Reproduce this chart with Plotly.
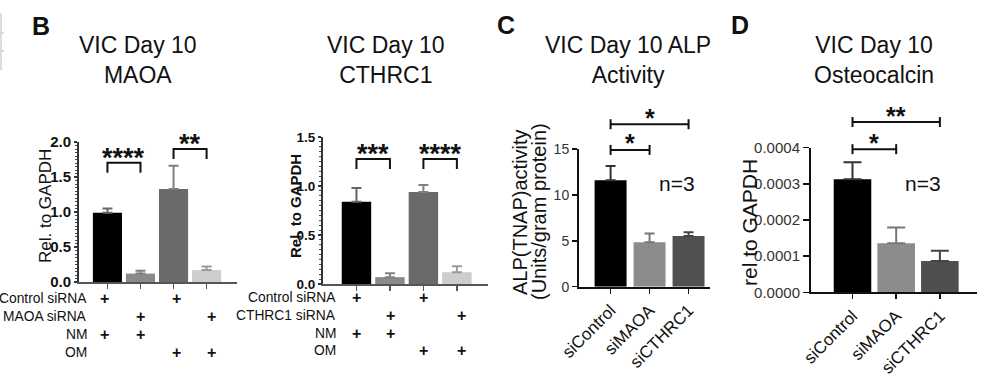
import plotly.graph_objects as go

W, H = 992, 378
FONT = "Arial, Liberation Sans, Helvetica, sans-serif"

# ---------------- data ----------------
maoa_groups = ["Ctrl siRNA NM", "MAOA siRNA NM", "Ctrl siRNA OM", "MAOA siRNA OM"]
maoa_mean = [0.99, 0.12, 1.33, 0.17]
maoa_err = [0.06, 0.04, 0.33, 0.05]

cthrc1_groups = ["Ctrl siRNA NM", "CTHRC1 siRNA NM", "Ctrl siRNA OM", "CTHRC1 siRNA OM"]
cthrc1_mean = [0.84, 0.07, 0.94, 0.12]
cthrc1_err = [0.14, 0.04, 0.07, 0.06]

alp_groups = ["siControl", "siMAOA", "siCTHRC1"]
alp_mean = [11.6, 4.84, 5.52]
alp_err = [1.55, 0.96, 0.40]

ocn_groups = ["siControl", "siMAOA", "siCTHRC1"]
ocn_mean = [3.13e-4, 1.355e-4, 0.866e-4]
ocn_err = [0.47e-4, 0.435e-4, 0.284e-4]

maoa_rows = ["Control siRNA", "MAOA siRNA", "NM", "OM"]
cthrc1_rows = ["Control siRNA", "CTHRC1 siRNA", "NM", "OM"]
plus_matrix = [[1, 0, 1, 0], [0, 1, 0, 1], [1, 1, 0, 0], [0, 0, 1, 1]]

maoa_sig = [(0, 1, 1.704, "****"), (2, 3, 1.90, "**")]
cthrc1_sig = [(0, 1, 1.276, "***"), (2, 3, 1.276, "****")]
alp_sig = [(0, 1, 14.9, "*"), (0, 2, 17.7, "*")]
ocn_sig = [(0, 1, 3.96e-4, "*"), (0, 2, 4.71e-4, "**")]

maoa_ticks = [0.0, 0.5, 1.0, 1.5, 2.0]
cthrc1_ticks = [0.0, 0.5, 1.0, 1.5]
alp_ticks = [0, 5, 10, 15]
ocn_ticks = [0.0, 0.0001, 0.0002, 0.0003, 0.0004]
ocn_ticktext = ["0.0000", "0.0001", "0.0002", "0.0003", "0.0004"]

# ---------------- geometry / style ----------------
panels = [
    dict(name="B1", xa="x", ya="y", x=(79, 237), y=(282, 142), xr=(-0.86, 3.92), yr=(0, 2.0),
         groups=maoa_groups, mean=maoa_mean, err=maoa_err,
         colors=["#000000", "#8a8a8a", "#6a6a6a", "#cdcdcd"],
         ecolors=["#666666", "#808080", "#808080", "#9a9a9a"], width=0.88, ewidth=5),
    dict(name="B2", xa="x2", ya="y2", x=(323, 488), y=(284, 137), xr=(-1.0, 3.93), yr=(0, 1.5),
         groups=cthrc1_groups, mean=cthrc1_mean, err=cthrc1_err,
         colors=["#000000", "#8a8a8a", "#6a6a6a", "#cdcdcd"],
         ecolors=["#666666", "#808080", "#808080", "#9a9a9a"], width=0.88, ewidth=5),
    dict(name="C", xa="x3", ya="y3", x=(579, 710), y=(286.7, 149), xr=(-0.81, 2.55), yr=(0, 15),
         groups=alp_groups, mean=alp_mean, err=alp_err,
         colors=["#000000", "#8c8c8c", "#505050"],
         ecolors=["#333333", "#777777", "#444444"], width=0.82, ewidth=5),
    dict(name="D", xa="x4", ya="y4", x=(811, 977), y=(292.3, 147.7), xr=(-0.95, 2.85), yr=(0, 0.0004),
         groups=ocn_groups, mean=ocn_mean, err=ocn_err,
         colors=["#000000", "#8c8c8c", "#4f4f4f"],
         ecolors=["#333333", "#777777", "#444444"], width=0.86, ewidth=9),
]


def to_px(p, i, v):
    x = p["x"][0] + (i - p["xr"][0]) / (p["xr"][1] - p["xr"][0]) * (p["x"][1] - p["x"][0])
    y = p["y"][0] - (v - p["yr"][0]) / (p["yr"][1] - p["yr"][0]) * (p["y"][0] - p["y"][1])
    return x, y


def PX(x):
    return x / W


def PY(y):
    return 1 - y / H


fig = go.Figure()
layout = dict(width=W, height=H, autosize=False, margin=dict(l=0, r=0, t=0, b=0, pad=0),
              paper_bgcolor="white", plot_bgcolor="white", showlegend=False,
              barmode="overlay", font=dict(family=FONT, color="#111"))

for p in panels:
    for g, m, e, c, ec in zip(p["groups"], p["mean"], p["err"], p["colors"], p["ecolors"]):
        fig.add_trace(go.Bar(
            x=[g], y=[m], width=p["width"], marker=dict(color=c, line=dict(width=0)),
            error_y=dict(type="data", array=[e], arrayminus=[0], symmetric=False,
                         color=ec, thickness=2, width=p["ewidth"]),
            xaxis=p["xa"], yaxis=p["ya"], hoverinfo="skip"))
    xk = "xaxis" + p["xa"][1:]
    yk = "yaxis" + p["ya"][1:]
    layout[xk] = dict(domain=[PX(p["x"][0]), PX(p["x"][1])], range=list(p["xr"]), anchor=p["ya"],
                      type="category", categoryorder="array", categoryarray=p["groups"],
                      automargin=False, showgrid=False, zeroline=False, showline=True, linewidth=2,
                      ticks="outside", ticklen=5, tickwidth=1.5, fixedrange=True)
    layout[yk] = dict(domain=[PY(p["y"][0]), PY(p["y"][1])], range=list(p["yr"]), anchor=p["xa"],
                      automargin=False, showgrid=False, zeroline=False, showline=True, linewidth=2,
                      ticks="outside", tickwidth=1.5, fixedrange=True)

# B panels axes
for k, ticks, fs in (("", maoa_ticks, 15), ("2", cthrc1_ticks, 13.5)):
    layout["xaxis" + k].update(showticklabels=False, linecolor="#555555", tickcolor="#555555")
    layout["yaxis" + k].update(tickvals=ticks, ticktext=["%.1f" % t for t in ticks],
                               tickfont=dict(size=fs, weight="bold", color="#111"),
                               linecolor="#333333", tickcolor="#333333", ticklen=3,
                               minor=dict(dtick=0.05, ticks="outside", ticklen=2,
                                          tickcolor="#444444", tickwidth=1))
# C / D axes
layout["xaxis3"].update(tickangle=-45, tickfont=dict(size=17, color="#111"),
                        linecolor="#111", tickcolor="#111")
layout["yaxis3"].update(tickvals=alp_ticks, tickfont=dict(size=14, color="#333"),
                        linecolor="#111", tickcolor="#111", ticklen=5)
layout["xaxis4"].update(tickangle=-45, tickfont=dict(size=17, color="#111"),
                        linecolor="#111", tickcolor="#111")
layout["yaxis4"].update(tickvals=ocn_ticks, ticktext=ocn_ticktext, tickfont=dict(size=15, color="#333"),
                        linecolor="#111", tickcolor="#111", ticklen=6)

shapes = []
ann = []


def text(x, y, t, size, bold=False, xanchor="center", yanchor="middle", angle=0, color="#111", **kw):
    f = dict(size=size, family=FONT, color=color)
    if bold:
        f["weight"] = "bold"
    a = dict(x=PX(x), y=PY(y), xref="paper", yref="paper", text=t, showarrow=False,
             xanchor=xanchor, yanchor=yanchor, textangle=angle, font=f)
    a.update(kw)
    ann.append(a)


def star(x, y_center, lab, size):
    # place so that the asterisk glyph (upper part of the em box) is centred at y_center
    text(x, y_center + 0.22 * size, lab, size, bold=True)


# significance brackets
def bracket_B(p, sig, leg=10, star_size=27, rise=11):
    for i, j, v, lab in sig:
        x1, y = to_px(p, i, v)
        x2, _ = to_px(p, j, v)
        path = "M %f %f L %f %f L %f %f L %f %f" % (PX(x1), PY(y + leg), PX(x1), PY(y),
                                                     PX(x2), PY(y), PX(x2), PY(y + leg))
        shapes.append(dict(type="path", path=path, xref="paper", yref="paper",
                           line=dict(color="#111", width=2)))
        star((x1 + x2) / 2, y - rise, lab, star_size)


def bracket_I(p, sig, cap=5, star_size=25, rise=12):
    for i, j, v, lab in sig:
        x1, y = to_px(p, i, v)
        x2, _ = to_px(p, j, v)
        for (a, b, c, d) in ((x1, y, x2, y), (x1, y - cap, x1, y + cap), (x2, y - cap, x2, y + cap)):
            shapes.append(dict(type="line", x0=PX(a), y0=PY(b), x1=PX(c), y1=PY(d),
                               xref="paper", yref="paper", line=dict(color="#111", width=2)))
        star((x1 + x2) / 2, y - rise, lab, star_size)


bracket_B(panels[0], maoa_sig)
bracket_B(panels[1], cthrc1_sig)
bracket_I(panels[2], alp_sig)
bracket_I(panels[3], ocn_sig)

# titles
text(138, 60, "VIC Day 10<br>MAOA", 23)
text(386, 60, "VIC Day 10<br>CTHRC1", 23)
text(628, 60, "VIC Day 10 ALP<br>Activity", 23)
text(874, 60, "VIC Day 10<br>Osteocalcin", 23)

# panel letters
text(41, 26, "B", 25, bold=True)
text(506, 25, "C", 25, bold=True)
text(740, 25, "D", 25, bold=True)

# y-axis titles
text(45, 206, "Rel. to GAPDH", 17, angle=-90)
text(295, 206, "Rel. to GAPDH", 15, bold=True, angle=-90)
text(520, 212, "ALP(TNAP)activity", 20, angle=-90)
text(539, 212, "(Units/gram protein)", 20, angle=-90)
text(749, 223, "rel to GAPDH", 21, angle=-90)

# n=3
text(677, 183, "n=3", 21)
text(923, 183, "n=3", 21)

# treatment tables under B panels
maoa_row_y = [298, 316, 334, 352]
maoa_col_x = [104, 140, 176, 211]
cthrc1_row_y = [297, 315, 333, 350]
cthrc1_col_x = [356, 390, 423, 461]
for rows, ry, cx, rx in ((maoa_rows, maoa_row_y, maoa_col_x, 89), (cthrc1_rows, cthrc1_row_y, cthrc1_col_x, 338)):
    for r, label in enumerate(rows):
        text(rx, ry[r], label, 13.8, xanchor="right")
        for c, on in enumerate(plus_matrix[r]):
            if on:
                text(cx[c], ry[r], "+", 16, bold=True)

# remnant of neighbouring panel at the left edge
shapes.append(dict(type="line", x0=PX(1), x1=PX(1), y0=PY(13), y1=PY(70), xref="paper", yref="paper",
                   line=dict(color="#bbbbbb", width=1)))
for yy in (33, 51):
    shapes.append(dict(type="line", x0=PX(1), x1=PX(4), y0=PY(yy), y1=PY(yy), xref="paper", yref="paper",
                       line=dict(color="#bbbbbb", width=1)))

layout["shapes"] = shapes
layout["annotations"] = ann
fig.update_layout(**layout)
fig.write_html("out.html", config={"displayModeBar": False, "staticPlot": True},
               post_script="document.body.style.margin='0';document.body.style.overflow='hidden';")
